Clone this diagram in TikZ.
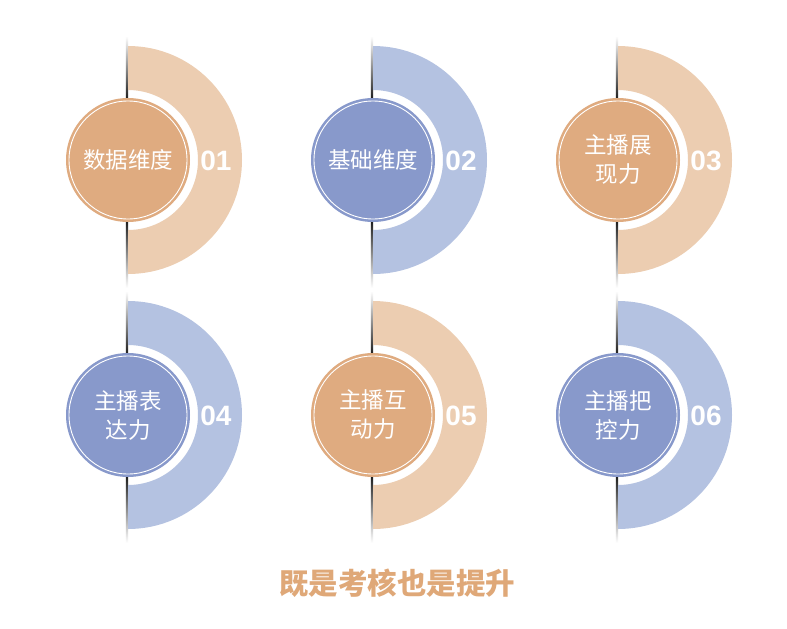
\documentclass[tikz,border=0pt]{standalone}
\usepackage{fontspec}
\newfontfamily\cjk{Noto Sans CJK SC}
\newfontfamily\numf{Liberation Sans}
\definecolor{odark}{HTML}{DFAB80}
\definecolor{olight}{HTML}{ECCDB1}
\definecolor{bdark}{HTML}{8899CB}
\definecolor{blight}{HTML}{B4C2E1}
\definecolor{titlec}{HTML}{DFA878}
\tikzset{
  disc/.style={circle, fill=#1, minimum size=124pt, inner sep=0pt, text=white, align=center, font=\cjk\fontsize{22.5}{29}\selectfont},
  numlabel/.style={text=white, font=\numf\bfseries\fontsize{28}{28}\selectfont, inner sep=0pt},
  ring/.style={draw=white, line width=0.9pt},
}
\newcommand\drawunit[7]{%
  % #1 cx, #2 cy, #3 dark, #4 light, #5 text, #6 number, #7 name
  \shade[top color=white, bottom color=black!90] (#1-2.2,#2+124) rectangle (#1,#2+60);
  \shade[top color=black!90, bottom color=white] (#1-2.2,#2-60) rectangle (#1,#2-128);
  \fill[#4] (#1,#2+114) arc[start angle=90,end angle=-90,radius=114] -- (#1,#2-70) arc[start angle=-90,end angle=90,radius=70] -- cycle;
  \node[disc=#3] (#7) at (#1,#2) {#5};
  \draw[ring] (#7.center) circle[radius=59];
  \node[numlabel] (#7n) at (#1+88,#2-1) {#6};
}
\begin{document}
\begin{tikzpicture}[x=1pt,y=1pt]
\useasboundingbox (0,0) rectangle (787,-629);
\fill[white] (0,0) rectangle (787,-629);
\drawunit{128}{-160}{odark}{olight}{数据维度}{01}{u1}
\drawunit{373}{-160}{bdark}{blight}{基础维度}{02}{u2}
\drawunit{618}{-160}{odark}{olight}{主播展\\现力}{03}{u3}
\drawunit{128}{-415}{bdark}{blight}{主播表\\达力}{04}{u4}
\drawunit{373}{-415}{odark}{olight}{主播互\\动力}{05}{u5}
\drawunit{618}{-415}{bdark}{blight}{主播把\\控力}{06}{u6}
\node[text=titlec, font=\cjk\bfseries\fontsize{29.5}{29.5}\selectfont, inner sep=0pt] (title) at (397,-583) {既是考核也是提升};
\end{tikzpicture}
\end{document}
